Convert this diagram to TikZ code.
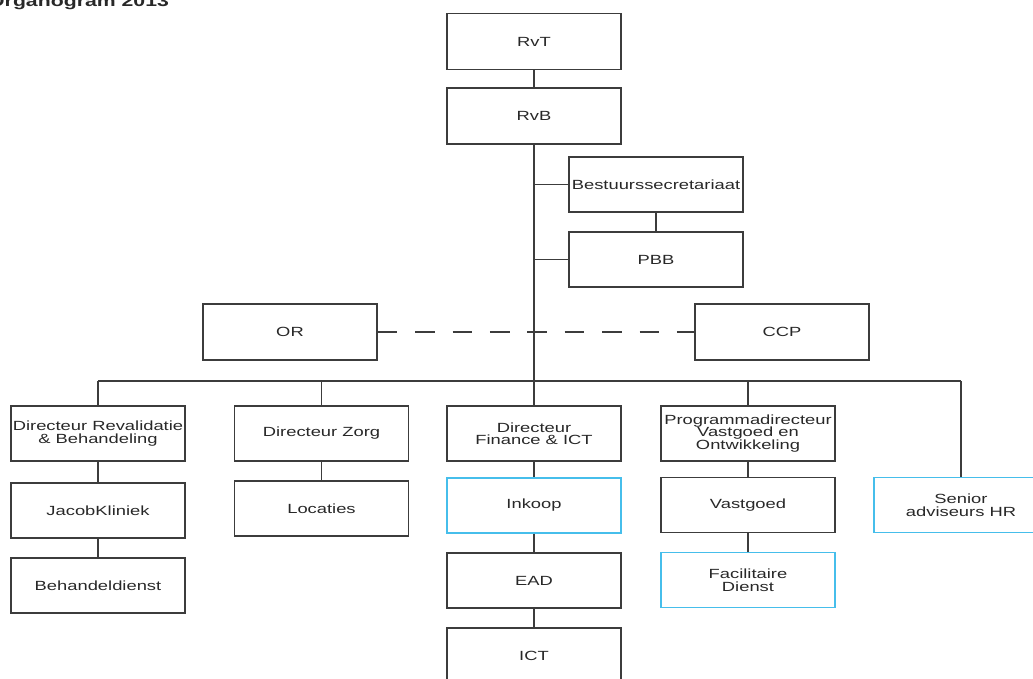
\documentclass[tikz,border=0pt]{standalone}
\usepackage{fontspec}
\setmainfont{Liberation Sans}
\newfontfamily\orgfont{Liberation Sans}[FakeStretch=1.38]
\definecolor{lijn}{RGB}{60,60,60}
\definecolor{tekst}{RGB}{40,40,40}
\definecolor{blauw}{RGB}{70,190,235}

\begin{document}
\begin{tikzpicture}[x=1pt, y=-1pt,
    box/.style={draw=lijn, line width=1.4pt, minimum width=174pt, minimum height=55pt,
                inner sep=0pt, align=center, text=tekst,
                font=\orgfont\fontsize{13.3}{12.5}\selectfont},
    bluebox/.style={box, draw=blauw},
    link/.style={lijn, line width=1.4pt}]
            % canvas
            \useasboundingbox (0,0) rectangle (1033,678);

            % title
            \node[anchor=base west, inner sep=0pt, text=tekst,
                  font=\orgfont\bfseries\fontsize{15.4}{16}\selectfont] (title) at (-12,6.5) {Organogram 2013};

            % top
            \node[box, minimum height=56pt] (rvt) at (534,41.5) {RvT};
            \node[box, minimum height=56pt] (rvb) at (534,116) {RvB};
            \node[box] (best) at (656,184.5) {Bestuurssecretariaat};
            \node[box] (pbb) at (656,259.5) {PBB};
            \node[box, minimum height=56pt] (or) at (290,332) {OR};
            \node[box, minimum height=56pt] (ccp) at (782,332) {CCP};

            % directors
            \node[box] (dirrev) at (98,433.5) {Directeur Revalidatie\\\& Behandeling};
            \node[box] (dirzorg) at (321.5,433.5) {Directeur Zorg};
            \node[box] (dirfin) at (534,433.5) {Directeur\\Finance \& ICT};
            \node[box] (dirvast) at (748,433.5) {Programmadirecteur\\Vastgoed en\\Ontwikkeling};
            \node[bluebox] (hr) at (961,505) {Senior\\adviseurs HR};

            % departments
            \node[box] (jacob) at (98,510.5) {JacobKliniek};
            \node[box] (behandel) at (98,585.5) {Behandeldienst};
            \node[box] (locaties) at (321.5,508.5) {Locaties};
            \node[bluebox] (inkoop) at (534,505.5) {Inkoop};
            \node[box] (ead) at (534,580.5) {EAD};
            \node[box] (ict) at (534,655.5) {ICT};
            \node[box] (vastgoed) at (748,505) {Vastgoed};
            \node[bluebox] (facil) at (748,580) {Facilitaire\\Dienst};

            % spine
            \coordinate (bus) at (534,381);
            \draw[link] (rvt) -- (rvb);
            \draw[link] (rvb) -- (dirfin);
            \draw[link] (rvb.south |- best.west) -- (best.west);
            \draw[link] (rvb.south |- pbb.west) -- (pbb.west);
            \draw[link] (best) -- (pbb);
            \draw[link, dash pattern=on 19.6pt off 17.8pt] (or) -- (ccp);

            % bus
            \draw[link] (dirrev.north |- bus) -- (hr.north |- bus);
            \foreach \n in {dirrev, dirzorg, dirvast, hr}
                \draw[link] (\n.north |- bus) -- (\n.north);

            % chains
            \draw[link] (dirrev) -- (jacob) -- (behandel);
            \draw[link] (dirzorg) -- (locaties);
            \draw[link] (dirfin) -- (inkoop) -- (ead) -- (ict);
            \draw[link] (dirvast) -- (vastgoed) -- (facil);
\end{tikzpicture}
\end{document}
